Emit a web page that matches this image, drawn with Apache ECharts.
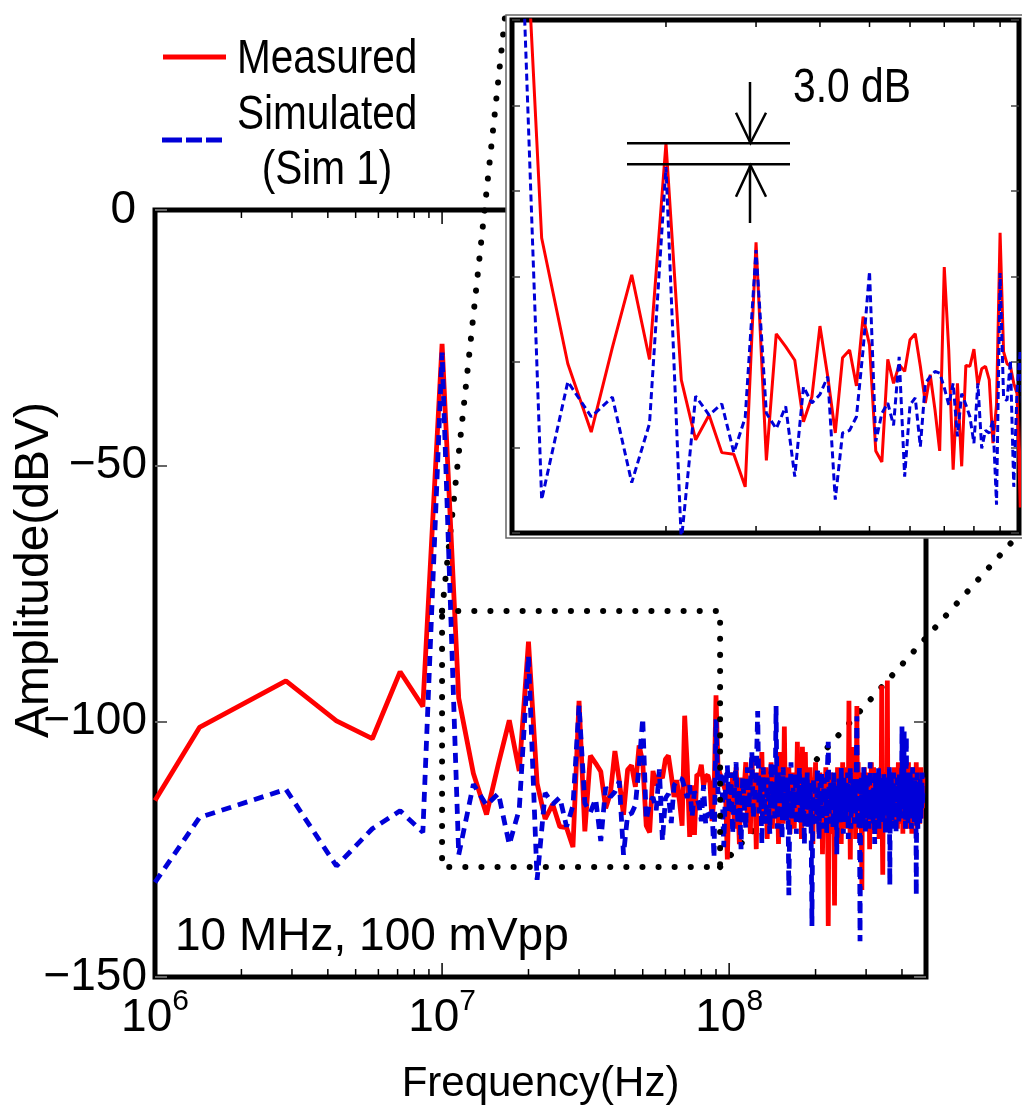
<!DOCTYPE html>
<html><head><meta charset="utf-8">
<script src="https://cdn.jsdelivr.net/npm/echarts/dist/echarts.min.js"></script>
<style>html,body{margin:0;padding:0;background:#fff}#c{width:1022px;height:1117px}</style>
</head><body><div id="c"></div><script>
// ---------------- data ----------------
const BIN_HZ = 1e7 / 7;            // spectrum bin spacing (10 MHz = bin 7)
const startFreqHz = 1e6;
const measuredStart = -115.5;
const simulatedStart = -131.5;
// bins 1..6
const measuredBins1to6 = [-101.2, -92.1, -99.9, -103.4, -90.3, -97.1];
const simulatedBins1to6 = [-118.8, -113.3, -128.3, -121.0, -117.5, -121.7];
// bins 7..69
const measuredBins7to69 = [-26.2, -95.5, -110.2, -118.2, -108.3, -99.8, -109.7, -84.4, -112.1, -119.1,
  -116.2, -120.6, -120.8, -124.6, -96.0, -121.5, -106.7, -108.2, -109.8, -117.0,
  -114.1, -105.8, -111.7, -118.3, -109.5, -108.6, -112.8, -104.7, -108.0, -120.4,
  -121.7, -109.7, -112.5, -110.3, -111.1, -107.4, -106.7, -110.5, -114.8, -111.5,
  -115.6, -120.4, -98.9, -108.6, -122.6, -112.5, -122.2, -110.4, -110.5, -108.5,
  -112.7, -110.8, -110.5, -112.1, -119.5, -115.0, -94.9, -108.8, -110.2, -110.5,
  -112.5, -113.7, -127.0];
const simulatedBins7to69 = [-27.9, -126.1, -112.3, -116.4, -114.1, -124.1, -117.2, -87.2, -131.0, -114.0,
  -116.2, -114.9, -120.6, -116.5, -96.9, -116.0, -117.8, -115.2, -123.4, -112.9,
  -114.8, -113.8, -111.7, -126.1, -118.3, -118.0, -116.4, -108.6, -99.4, -119.3,
  -116.0, -114.8, -117.4, -109.4, -123.4, -115.0, -114.2, -119.9, -112.5, -111.7,
  -111.1, -111.3, -113.0, -115.0, -112.5, -118.7, -113.7, -115.0, -116.4, -119.5,
  -112.5, -120.1, -118.0, -118.3, -116.8, -126.7, -99.6, -114.2, -114.5, -109.8,
  -124.6, -113.3, -108.6];
// bins 70..331
const measuredBins70to331 = [
  -112, -118, -110, -121, -109, -115, -124, -111, -117, -113,
  -108, -119, -114, -122, -107, -116, -111, -125, -110, -118,
  -113, -106, -120, -115, -109, -123, -112, -117, -108, -121,
  -114, -110, -119, -113, -124, -106, -116, -111, -120, -101,
  -118, -112, -115, -109, -122, -114, -117, -110, -121, -113,
  -116, -104, -119, -111, -108, -123, -105, -115, -112, -106,
  -118, -110, -114, -120, -109, -117, -113, -124, -111, -116,
  -108, -119, -113, -115, -122, -110, -117, -112, -126, -114,
  -111, -118, -109, -121, -115, -140, -113, -119, -110, -116,
  -122, -112, -117, -136, -111, -115, -120, -109, -118, -113,
  -116, -110, -124, -114, -108, -119, -112, -117, -121, -111,
  -115, -109, -118, -96, -113, -127, -111, -116, -105, -120,
  -112, -118, -110, -123, -114, -97, -119, -108, -116, -121,
  -113, -110, -117, -133, -111, -115, -120, -109, -118, -114,
  -112, -121, -116, -110, -119, -113, -125, -111, -117, -108,
  -115, -122, -113, -109, -118, -114, -111, -120, -116, -112,
  -119, -110, -115, -123, -112, -117, -109, -114, -93, -121,
  -130, -113, -118, -110, -116, -112, -120, -115, -111, -92,
  -117, -109, -114, -121, -112, -118, -110, -115, -119, -113,
  -111, -116, -120, -109, -114, -118, -112, -117, -110, -115,
  -121, -113, -108, -116, -119, -111, -114, -120, -112, -117,
  -110, -115, -122, -113, -109, -118, -114, -111, -119, -116,
  -112, -117, -110, -121, -114, -108, -116, -119, -113, -111,
  -118, -115, -110, -122, -113, -117, -109, -114, -120, -112,
  -116, -111, -119, -113, -108, -117, -121, -112, -115, -110,
  -118, -114, -111, -120, -113, -116, -109, -119, -112, -115, -117, -111];
const simulatedBins70to331 = [
  -118, -110, -122, -114, -108, -120, -113, -125, -111, -116,
  -121, -109, -117, -112, -106, -119, -114, -110, -98, -118,
  -112, -124, -109, -116, -120, -111, -115, -122, -108, -117,
  -113, -119, -97, -121, -110, -116, -112, -123, -109, -118,
  -114, -120, -111, -134, -115, -108, -119, -113, -117, -110,
  -122, -112, -116, -109, -120, -114, -118, -111, -124, -113,
  -117, -110, -121, -115, -112, -119, -140, -114, -111, -118,
  -113, -120, -109, -116, -123, -112, -117, -110, -121, -115,
  -111, -118, -114, -122, -109, -104, -116, -120, -112, -117,
  -113, -121, -110, -115, -119, -112, -126, -114, -118, -111,
  -116, -120, -109, -117, -113, -122, -111, -115, -119, -112,
  -118, -110, -123, -114, -116, -109, -121, -113, -117, -111,
  -115, -120, -112, -118, -110, -99, -119, -114, -121, -113,
  -143, -116, -111, -118, -113, -120, -109, -117, -114, -122,
  -112, -116, -110, -119, -115, -121, -113, -108, -118, -114,
  -117, -111, -120, -113, -116, -124, -110, -115, -119, -112,
  -114, -118, -109, -121, -113, -117, -111, -116, -120, -112,
  -115, -119, -110, -117, -113, -122, -111, -116, -114, -118,
  -112, -117, -120, -109, -132, -115, -118, -111, -114, -121,
  -113, -116, -110, -119, -114, -117, -112, -122, -115, -111,
  -118, -113, -116, -120, -110, -115, -119, -112, -117, -114,
  -101, -116, -111, -119, -113, -102, -117, -110, -121, -114,
  -103, -118, -112, -115, -120, -111, -116, -113, -119, -110,
  -117, -114, -121, -112, -116, -109, -118, -115, -113, -120,
  -111, -116, -119, -113, -134, -117, -110, -115, -121, -112,
  -118, -114, -116, -120, -111, -115, -119, -113, -117, -110, -116, -114];
// axis ticks
const mainMajorTicksHz = [1e7, 1e8];
const mainMinorTicksHz = [2e6, 3e6, 4e6, 5e6, 6e6, 7e6, 8e6, 9e6, 2e7, 3e7, 4e7, 5e7, 6e7, 7e7, 8e7, 9e7, 2e8, 3e8, 4e8];
const insetMinorTicksHz = [2e7, 3e7, 4e7, 5e7, 6e7, 7e7, 8e7, 9e7];

// ---------------- build ----------------
function buildSeries(startVal, a, b, c) {
  const pts = [[startFreqHz, startVal]];
  a.concat(b, c).forEach((v, i) => pts.push([(i + 1) * BIN_HZ, v]));
  return pts;
}
const measured = buildSeries(measuredStart, measuredBins1to6, measuredBins7to69, measuredBins70to331);
const simulated = buildSeries(simulatedStart, simulatedBins1to6, simulatedBins7to69, simulatedBins70to331);

const REG = "'Liberation Sans', Arial, Helvetica, sans-serif";
const RED = '#ff0000', BLUE = '#0000d8';

function tickSeries(xi, yi, freqs, len, width, color, z) {
  return {
    type: 'custom', xAxisIndex: xi, yAxisIndex: yi, z: z, silent: true, clip: false,
    data: freqs.map(f => [f, -100]), encode: { x: 0, y: 1 },
    renderItem: function (params, api) {
      const cs = params.coordSys;
      const x = api.coord([api.value(0), api.value(1)])[0];
      const b = cs.y + cs.height;
      return { type: 'group', children: [
        { type: 'line', shape: { x1: x, y1: b, x2: x, y2: b - len }, style: { stroke: color, lineWidth: width } },
        { type: 'line', shape: { x1: x, y1: cs.y, x2: x, y2: cs.y + len }, style: { stroke: color, lineWidth: width } }
      ] };
    }
  };
}

const chart = echarts.init(document.getElementById('c'), null, { renderer: 'canvas' });
const yAxisMain = {
  gridIndex: 0, type: 'value', min: -150, max: 0, interval: 50,
  axisLine: { show: false }, splitLine: { show: false },
  axisTick: { show: true, inside: true, length: 12, lineStyle: { color: '#666', width: 2 } }
};
const yAxisInset = {
  gridIndex: 1, type: 'value', min: -130, max: -70, interval: 10,
  axisLine: { show: false }, splitLine: { show: false }, axisLabel: { show: false },
  axisTick: { show: true, inside: true, length: 8, lineStyle: { color: '#444', width: 1.5 } }, z: 12
};
const legendCommon = { orient: 'vertical', itemHeight: 5, padding: 0, selectedMode: false,
  formatter: function () { return ''; }, textStyle: { fontSize: 1, lineHeight: 5 },
  itemStyle: { borderWidth: 0 } };
chart.setOption({
  animation: false,
  backgroundColor: '#fff',
  grid: [
    { left: 155, top: 210, width: 771, height: 767, show: true, borderColor: '#000', borderWidth: 5, backgroundColor: 'transparent' },
    { left: 512, top: 20, width: 507, height: 513, show: true, borderColor: '#000', borderWidth: 5, backgroundColor: '#fff', z: 10 }
  ],
  xAxis: [
    { gridIndex: 0, type: 'log', logBase: 10, min: 1e6, max: 4.85e8,
      axisLine: { show: false }, axisTick: { show: false }, splitLine: { show: false },
      name: 'Frequency(Hz)', nameLocation: 'middle', nameGap: 86,
      nameTextStyle: { fontFamily: REG, fontSize: 42, color: '#000' },
      axisLabel: { margin: 10, color: '#000',
        formatter: function (v) {
          const e = Math.round(Math.log10(v));
          if (Math.abs(Math.log10(v) - e) > 1e-6) return '';
          return '{b|10}{s|' + e + '}';
        },
        rich: { b: { fontFamily: REG, fontSize: 46, lineHeight: 62, color: '#000' },
                s: { fontFamily: REG, fontSize: 30, verticalAlign: 'top', color: '#000' } } } },
    { gridIndex: 1, type: 'log', logBase: 10, min: 1e7, max: 9.8e7,
      axisLine: { show: false }, axisTick: { show: false }, splitLine: { show: false }, axisLabel: { show: false }, z: 12 }
  ],
  yAxis: [
    Object.assign({}, yAxisMain, { position: 'left',
      axisLabel: { margin: 8, color: '#000',
        formatter: function (v) { return v < 0 ? '{n|\u2212' + Math.abs(v) + '}' : '{z|' + v + '}'; },
        rich: { n: { fontFamily: REG, fontSize: 46, color: '#000' },
                z: { fontFamily: REG, fontSize: 46, color: '#000', padding: [0, 11, 0, 0] } } } }),
    Object.assign({}, yAxisMain, { position: 'right', axisLabel: { show: false } }),
    Object.assign({}, yAxisInset, { position: 'left' }),
    Object.assign({}, yAxisInset, { position: 'right' })
  ],
  legend: [
    Object.assign({}, legendCommon, { left: 163, top: 54.5, itemWidth: 63,
      data: [{ name: 'Measured', icon: 'rect' }] }),
    Object.assign({}, legendCommon, { left: 162, top: 137.5, itemWidth: 60,
      data: [{ name: 'Simulated', icon: 'path://M0,0h20v5h-20z M24,0h16v5h-16z M44,0h16v5h-16z' }] })
  ],
  series: [
    { name: 'Measured', type: 'line', xAxisIndex: 0, yAxisIndex: 0, data: measured, symbol: 'none', z: 3,
      lineStyle: { color: RED, width: 4.8 }, itemStyle: { color: RED } },
    { name: 'Simulated', type: 'line', xAxisIndex: 0, yAxisIndex: 0, data: simulated, symbol: 'none', z: 3,
      lineStyle: { color: BLUE, width: 4.8, type: [10, 7] }, itemStyle: { color: BLUE } },
    { name: 'zoomBox', type: 'line', xAxisIndex: 0, yAxisIndex: 0, symbol: 'none', z: 4, silent: true,
      data: [[1e7, -78.4], [9.3e7, -78.4], [9.3e7, -128.5], [1e7, -128.5], [1e7, -78.4]],
      lineStyle: { color: '#000', width: 6, type: [0.1, 16], cap: 'round' } },
    { name: 'Measured', type: 'line', xAxisIndex: 1, yAxisIndex: 2, data: measured, symbol: 'none', z: 12,
      lineStyle: { color: RED, width: 3 }, itemStyle: { color: RED } },
    { name: 'Simulated', type: 'line', xAxisIndex: 1, yAxisIndex: 2, data: simulated, symbol: 'none', z: 12,
      lineStyle: { color: BLUE, width: 3, type: [7, 4] }, itemStyle: { color: BLUE } },
    tickSeries(0, 0, mainMinorTicksHz, 8, 1.5, '#000', 5),
    tickSeries(0, 0, mainMajorTicksHz, 14, 1.5, '#000', 5),
    tickSeries(1, 2, insetMinorTicksHz, 7, 1.5, '#000', 13)
  ]
});

// annotations (pixel-placed decorations and free text)
const pTL = chart.convertToPixel({ gridIndex: 0 }, [1e7, -78.4]);
const pBR = chart.convertToPixel({ gridIndex: 0 }, [9.3e7, -128.5]);
const dotStyle = { stroke: '#000', lineWidth: 6, lineDash: [0.1, 16], lineCap: 'round' };
const blk = { stroke: '#000', lineWidth: 2.5, fill: null };
function label(text, x, y, size, sx, align) {
  return { type: 'text', z: 20, x: x, y: y, scaleX: sx, silent: true,
    style: { text: text, x: 0, y: 0, fontFamily: REG, fontSize: size, fill: '#000', align: align || 'left', verticalAlign: 'middle' } };
}
chart.setOption({
  graphic: [
    { type: 'line', z: 3, shape: { x1: pTL[0], y1: pTL[1], x2: 505, y2: 17 }, style: dotStyle, silent: true },
    { type: 'line', z: 3, shape: { x1: pBR[0], y1: pBR[1], x2: 1020, y2: 533 }, style: dotStyle, silent: true },
    { type: 'rect', z: 9, shape: { x: 506, y: 15, width: 530, height: 523 }, style: { fill: '#fff', stroke: '#666', lineWidth: 1.5 }, silent: true },
    // 3.0 dB annotation
    { type: 'line', z: 20, shape: { x1: 627, y1: 143.3, x2: 790, y2: 143.3 }, style: blk, silent: true },
    { type: 'line', z: 20, shape: { x1: 627, y1: 164.3, x2: 790, y2: 164.3 }, style: blk, silent: true },
    { type: 'polyline', z: 20, shape: { points: [[750, 82], [750, 143]] }, style: blk, silent: true },
    { type: 'polyline', z: 20, shape: { points: [[736, 112.7], [750.5, 143], [766, 112.7]] }, style: blk, silent: true },
    { type: 'polyline', z: 20, shape: { points: [[750, 165], [750, 223]] }, style: blk, silent: true },
    { type: 'polyline', z: 20, shape: { points: [[736, 196.7], [750.5, 165.5], [766, 196.7]] }, style: blk, silent: true },
    label('3.0 dB', 793, 89, 48, 0.85),
    label('10 MHz, 100 mVpp', 175, 937, 46, 1),
    // legend labels
    label('Measured', 237, 60, 48, 0.845),
    label('Simulated', 237, 116, 48, 0.845),
    label('(Sim 1)', 327, 171, 48, 0.845, 'center'),
    { type: 'text', z: 20, rotation: Math.PI / 2, x: 35, y: 570, silent: true,
      style: { text: 'Amplitude(dBV)', x: 0, y: 0, fontFamily: REG, fontSize: 48, fill: '#000', align: 'center', verticalAlign: 'middle' } }
  ]
});
</script></body></html>
